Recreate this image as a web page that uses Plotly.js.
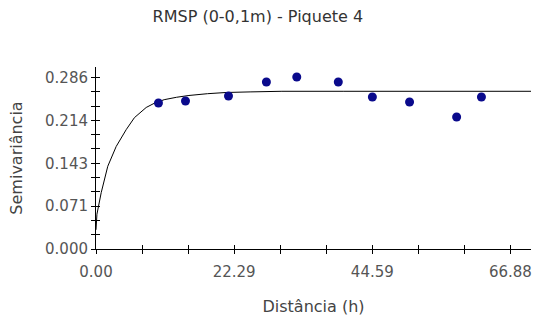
<!DOCTYPE html>
<html>
<head>
<meta charset="utf-8">
<script src="https://cdn.plot.ly/plotly-3.0.1.min.js"></script>
<style>html,body{margin:0;padding:0;background:#fff;}#chart{width:535px;height:323px;}</style>
</head>
<body>
<div id="chart"></div>
<script>
// Experimental semivariance points
const lagX = [10.08, 14.44, 21.38, 27.5, 32.4, 39.1, 44.6, 50.6, 58.2, 62.2];
const semiY = [0.2435, 0.2468, 0.2551, 0.2785, 0.2868, 0.2785, 0.2535, 0.2451, 0.2201, 0.2535];
// Fitted model curve
const curveX = [0, 0.15, 0.84, 1.9, 3.26, 4.87, 6.2, 8.1, 9.4, 11, 13, 15, 18, 21, 25, 30, 40, 50, 60, 70.2];
const curveY = [0.032, 0.058, 0.094, 0.138, 0.171, 0.199, 0.219, 0.236, 0.243, 0.249, 0.253, 0.256, 0.259, 0.261, 0.262, 0.263, 0.263, 0.263, 0.263, 0.263];
// Axis ticks
const xTickVals = [0, 22.29, 44.59, 66.88];
const xTickText = ["0.00", "22.29", "44.59", "66.88"];
const yTickVals = [0, 0.0715, 0.143, 0.2145, 0.286];
const yTickText = ["0.000", "0.071", "0.143", "0.214", "0.286"];
const xMinorStep = 66.88 / 9;
const yMinorStep = 0.286 / 12;

const xRange = [0, 70.2];
const yRange = [0, 0.3035];
const FAM = "DejaVu Sans, Verdana, sans-serif";
const tickFont = {family: FAM, size: 15, color: "#555"};
const titleFont = {family: FAM, size: 16, color: "#444"};

const traces = [
  {x: curveX, y: curveY, type: "scatter", mode: "lines", line: {color: "#000", width: 1}, hoverinfo: "skip", showlegend: false},
  {x: lagX, y: semiY, type: "scatter", mode: "markers", marker: {color: "#0a0a8c", size: 9}, showlegend: false},
  {x: [], y: [], xaxis: "x2", yaxis: "y2", type: "scatter", showlegend: false}
];

const tickCommon = {ticklen: 4, tickwidth: 1, tickcolor: "#000"};
const layout = {
  width: 535, height: 323,
  margin: {l: 96, r: 4, t: 67, b: 74},
  paper_bgcolor: "#fff", plot_bgcolor: "#fff",
  font: tickFont,
  title: {text: "RMSP (0-0,1m) - Piquete 4", x: 0.482, xanchor: "center", y: 0.95, yanchor: "middle",
          font: {family: FAM, size: 16, color: "#333"}},
  xaxis: Object.assign({
    range: xRange, showgrid: false, zeroline: false, showline: true, linecolor: "#000", linewidth: 1,
    ticks: "outside", tickmode: "array", tickvals: xTickVals, ticktext: xTickText,
    ticklabelstandoff: 5,
    minor: {dtick: xMinorStep, tick0: 0, ticks: "outside", ticklen: 4, tickcolor: "#000", showgrid: false},
    title: {text: "Distância (h)", standoff: 20, font: titleFont},
    tickfont: tickFont
  }, tickCommon),
  yaxis: Object.assign({
    range: yRange, showgrid: false, zeroline: false, showline: true, linecolor: "#000", linewidth: 1,
    ticks: "outside", tickmode: "array", tickvals: yTickVals, ticktext: yTickText,
    minor: {dtick: yMinorStep, tick0: 0, ticks: "outside", ticklen: 4, tickcolor: "#000", showgrid: false},
    title: {text: "Semivariância", standoff: 18, font: titleFont},
    tickfont: tickFont
  }, tickCommon),
  xaxis2: Object.assign({
    overlaying: "x", anchor: "y2", range: xRange, showgrid: false, zeroline: false, showline: false,
    ticks: "inside", tickmode: "array", tickvals: xTickVals, showticklabels: false,
    minor: {dtick: xMinorStep, tick0: 0, ticks: "inside", ticklen: 4, tickcolor: "#000", showgrid: false}
  }, tickCommon),
  yaxis2: Object.assign({
    overlaying: "y", anchor: "x2", range: yRange, showgrid: false, zeroline: false, showline: false,
    ticks: "inside", tickmode: "array", tickvals: yTickVals, showticklabels: false,
    minor: {dtick: yMinorStep, tick0: 0, ticks: "inside", ticklen: 4, tickcolor: "#000", showgrid: false}
  }, tickCommon)
};

Plotly.newPlot("chart", traces, layout, {staticPlot: true, displayModeBar: false});
</script>
</body>
</html>
